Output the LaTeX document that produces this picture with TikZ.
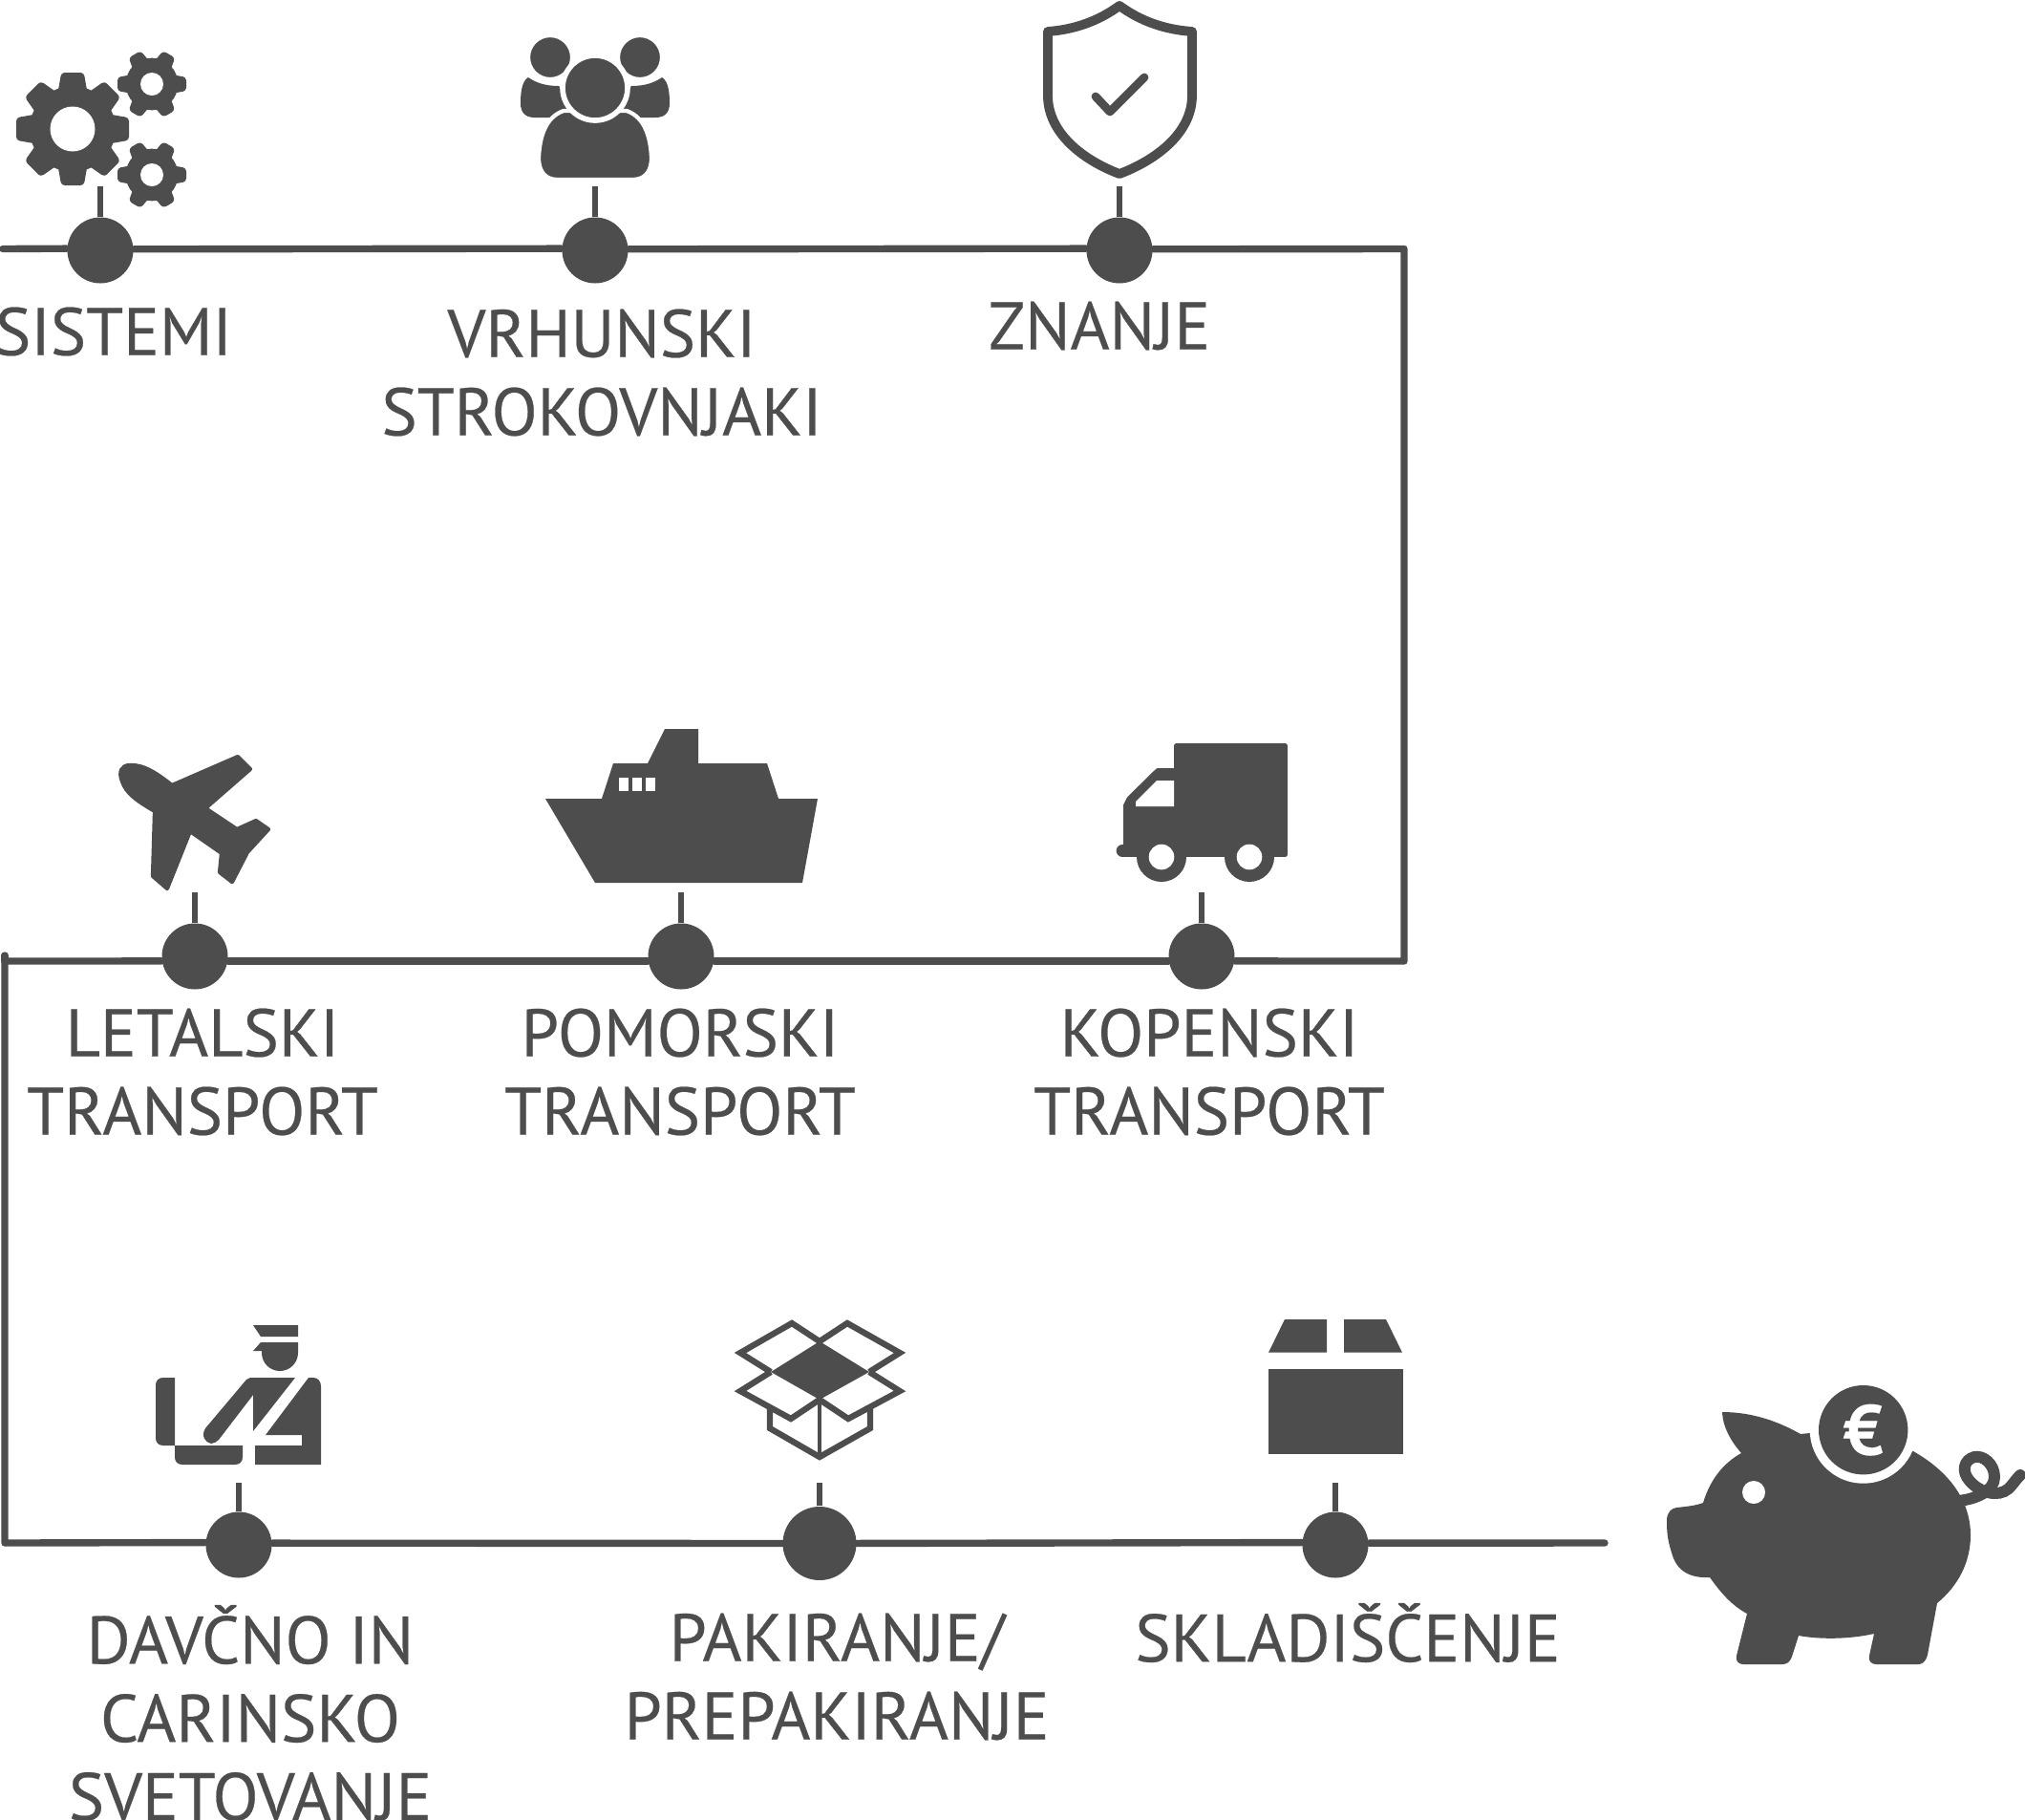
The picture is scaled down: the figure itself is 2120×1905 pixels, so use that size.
\documentclass[tikz,border=0pt]{standalone}
\usepackage{fontspec}
\setmainfont[FakeBold=0.35]{PT Sans}
\definecolor{icongray}{HTML}{4D4D4D}
\newcommand{\gearicon}[5]{% x, y, outer radius, hole radius, teeth
  \fill[icongray] (#1,#2) circle[radius=0.76*#3];
  \pgfmathsetmacro{\gearstep}{360/#5}
  \foreach \t in {1,...,#5} {
    \fill[icongray, shift={(#1,#2)}, rotate=\t*\gearstep, rounded corners=1]
      (0.6*#3,-0.27*#3) -- (#3,-0.2*#3) -- (#3,0.2*#3) -- (0.6*#3,0.27*#3) -- cycle;
  }
  \fill[white] (#1,#2) circle[radius=#4];
}
\tikzset{
  dot/.style={circle, fill=icongray, inner sep=0pt, minimum size=69*0.01cm},
  bigdot/.style={dot, minimum size=77*0.01cm},
  wire/.style={draw=icongray, line width=2.1pt, line cap=round, line join=round},
  stub/.style={draw=icongray, line width=1.7pt},
  lbl/.style={text=icongray, align=center, inner sep=0pt, font=\fontsize{20}{23.3}\selectfont},
  outline/.style={draw=icongray, line join=miter},
  softfill/.style={fill=icongray, draw=icongray, line width=1.2pt, line join=round},
}
\begin{document}
\begin{tikzpicture}[x=0.01cm, y=-0.01cm]
  \useasboundingbox (0,0) rectangle (2120,1905);

  % dots on the three lines, each with a short stub up to its icon
  \foreach \name/\x/\y/\top/\kind in {sistemi/105/262/195/dot, vrhunski/623/262/195/dot, znanje/1172/262/195/dot,
      letalski/204/1001/934/dot, pomorski/713/1001/934/dot, kopenski/1258/1001/934/dot,
      carina/250/1617/1552/dot, pakiranje/858/1615.5/1552/bigdot, skladisce/1398/1617/1552/dot} {
    \node[\kind] (\name) at (\x,\y) {};
    \coordinate (\name top) at (\x,\top);
    \draw[stub] (\name) -- (\name top);
  }

  % the line itself, it runs a little off the centre of the dots
  \coordinate (start) at (3,260.5);
  \coordinate (cornerA) at (1470,260.5);
  \coordinate (cornerB) at (1470,1006);
  \coordinate (cornerC) at (5,1006);
  \coordinate (cornerCup) at (5,1000);
  \coordinate (cornerD) at (5,1615);
  \coordinate (finish) at (1680,1615);
  \draw[wire] (start) -- (sistemi.177.5);
  \draw[wire] (sistemi.2.5) -- (vrhunski.177.5);
  \draw[wire] (vrhunski.2.5) -- (znanje.177.5);
  \draw[wire] (znanje.2.5) -- (cornerA) -- (cornerB) -- (kopenski.-8.3);
  \draw[wire] (kopenski.188.3) -- (pomorski.-8.3);
  \draw[wire] (pomorski.188.3) -- (letalski.-8.3);
  \draw[wire] (letalski.188.3) -- (cornerC) -- (cornerD) -- (carina.176.7);
  \draw[wire] (carina.3.3) -- (pakiranje);
  \draw[wire] (pakiranje) -- (skladisce.176.7);
  \draw[wire] (skladisce.3.3) -- (finish);
  \draw[wire] (cornerC) -- (cornerCup);

  % labels
  \node[lbl] (lsistemi) at (119,347) {SISTEMI};
  \node[lbl] (lvrhunski) at (630,390) {VRHUNSKI\\STROKOVNJAKI};
  \node[lbl] (lznanje) at (1151,341) {ZNANJE};
  \node[lbl] (lletalski) at (212,1122) {LETALSKI\\TRANSPORT};
  \node[lbl] (lpomorski) at (712,1122) {POMORSKI\\TRANSPORT};
  \node[lbl] (lkopenski) at (1266,1122) {KOPENSKI\\TRANSPORT};
  \node[lbl] (lcarina) at (262,1793) {DAVČNO IN\\CARINSKO\\SVETOVANJE};
  \node[lbl] (lpakiranje) at (876,1755) {PAKIRANJE/\\PREPAKIRANJE};
  \node[lbl] (lskladisce) at (1411,1709) {SKLADIŠČENJE};

  % gears
  \gearicon{76}{135}{59}{23.5}{8}
  \gearicon{159}{88}{36}{12}{6}
  \gearicon{159}{183}{36}{12}{6}

  % people
  \fill[icongray] (553,81) .. controls (560,86) and (570,90) .. (585,90) -- (610,123) -- (560,123)
    .. controls (550,123) and (545,118) .. (545,108) .. controls (545,98) and (546,85) .. (553,81) -- cycle;
  \fill[icongray] (693,81) .. controls (686,86) and (676,90) .. (661,90) -- (636,123) -- (686,123)
    .. controls (696,123) and (701,118) .. (701,108) .. controls (701,98) and (700,85) .. (693,81) -- cycle;
  \filldraw[icongray, draw=white, line width=1.2pt] (576,60) circle[radius=23];
  \filldraw[icongray, draw=white, line width=1.2pt] (670,60) circle[radius=23];
  \filldraw[icongray, draw=white, line width=1.2pt] (564,165) .. controls (565,145) and (570,123) .. (590,116)
    -- (656,116) .. controls (676,123) and (681,145) .. (682,165) .. controls (682,181) and (674,188) .. (662,188)
    -- (584,188) .. controls (572,188) and (564,181) .. (564,165) -- cycle;
  \filldraw[icongray, draw=white, line width=1.6pt] (623,92) circle[radius=34];

  % shield
  \draw[icongray, line width=2.8pt, line join=round] (1172,6) .. controls (1150,22) and (1125,31) .. (1097,33)
    -- (1097,100) .. controls (1097,140) and (1135,168) .. (1172,182)
    .. controls (1209,168) and (1248,140) .. (1248,100) -- (1248,33)
    .. controls (1219,31) and (1194,22) .. (1172,6) -- cycle;
  \draw[icongray, line width=2.5pt, line cap=round, line join=round] (1147,101) -- (1162,117) -- (1198,81);

  % plane
  \filldraw[softfill] (136,801) .. controls (127,801) and (124,808) .. (128,818) .. controls (132,830) and (143,838) .. (162,849)
    -- (160,917) -- (175,930) -- (199,870) -- (232,893) -- (230,913) -- (243,923) -- (259,892)
    -- (281,868) -- (268,859) -- (248,868) -- (215,846) -- (262,805) -- (249,792) -- (180,822)
    .. controls (165,810) and (150,800) .. (136,801) -- cycle;

  % ship
  \fill[icongray] (571,836) -- (630,836) -- (642,799) -- (678,799) -- (696,763) -- (731,763) -- (731,799)
    -- (803,799) -- (815,836) -- (856,836) -- (840,924) -- (623,924) -- cycle;
  \foreach \wx in {648,662,676}
    \fill[white] (\wx,814) rectangle +(9.5,14);

  % truck
  \filldraw[softfill, line width=1.4pt] (1231.5,806.5) -- (1212,806.5) -- (1182,836) -- (1178.5,843) -- (1178.5,894.5)
    -- (1345.5,894.5) -- (1345.5,780.5) -- (1231.5,780.5) -- cycle;
  \draw[icongray, line width=3.6pt, line cap=round] (1175,890.5) -- (1185,890.5);
  \fill[white] (1229,817) -- (1211,817) -- (1189,839) -- (1189,844) -- (1229,844) -- cycle;
  \foreach \wx in {1216,1308} {
    \fill[icongray] (\wx,897) circle[radius=26];
    \fill[white] (\wx,897) circle[radius=13.3];
  }

  % customs officer
  \fill[icongray] (265,1387) -- (312,1387) -- (312,1399) -- (273,1399) -- cycle;
  \fill[icongray] (312,1405) -- (273,1405) -- (265,1414) -- (274,1414) -- (274,1416) arc[start angle=180, end angle=0, radius=19] -- cycle;
  \fill[icongray] (183,1442) -- (171,1442) .. controls (166,1442) and (163,1445) .. (163,1450) -- (163,1505)
    .. controls (163,1510) and (166,1513) .. (171,1513) -- (183,1513) -- cycle;
  \fill[icongray] (183,1513) -- (183,1525) .. controls (183,1530) and (186,1533) .. (191,1533) -- (246,1533)
    .. controls (251,1533) and (254,1530) .. (254,1525) -- (254,1513) -- cycle;
  \fill[icongray] (309,1442) -- (262,1442) .. controls (260,1442) and (259,1443) .. (258,1444) -- (215,1495)
    .. controls (210,1503) and (215,1510) .. (221,1511) .. controls (224,1511) and (227,1509) .. (229,1507)
    -- (265,1460) -- (265,1498) -- cycle;
  \fill[icongray] (323,1442) -- (328,1442) .. controls (333,1442) and (336,1446) .. (336,1451) -- (336,1533)
    -- (267,1533) -- (267,1513) -- (316,1513) -- (316,1502) -- (278,1502) -- cycle;

  % open box
  \fill[icongray] (858,1404) -- (910,1436) -- (858,1465) -- (807,1436) -- cycle;
  \draw[outline, line width=1.8pt] (807,1436) -- (775,1416) -- (829,1385) -- (858,1404) -- (887,1385) -- (942,1416) -- (910,1436);
  \draw[outline, line width=1.8pt] (807,1436) -- (775,1456) -- (828,1485) -- (858,1465) -- (888,1485) -- (942,1456) -- (910,1436);
  \draw[outline, line width=1.8pt] (806,1474) -- (806,1495) -- (858,1525) -- (911,1495) -- (911,1474);
  \draw[outline, line width=0.9pt] (858,1465) -- (858,1525);

  % closed box
  \fill[icongray] (1328,1415.7) -- (1345,1381) -- (1389,1381) -- (1389,1415.7) -- cycle;
  \fill[icongray] (1407,1415.7) -- (1407,1381) -- (1451,1381) -- (1468,1415.7) -- cycle;
  \fill[icongray] (1328,1433) rectangle (1469,1522);

  % piggy bank
  \draw[icongray, line width=3.4pt, line cap=round] (2050,1571) .. controls (2070,1569) and (2088,1560) .. (2088,1546)
    .. controls (2088,1532) and (2076,1523) .. (2067,1525) .. controls (2056,1528) and (2053,1540) .. (2062,1550)
    .. controls (2072,1562) and (2092,1568) .. (2103,1558) .. controls (2107,1554) and (2110,1549) .. (2115,1544);
  \fill[icongray] (1803,1478) .. controls (1835,1478) and (1862,1488) .. (1885,1501) -- (1895,1500) -- (2003,1519)
    .. controls (2040,1540) and (2063,1570) .. (2063,1607) .. controls (2063,1635) and (2050,1660) .. (2028,1678)
    -- (2018,1732) .. controls (2016,1740) and (2012,1742) .. (2008,1742) -- (1965,1742) .. controls (1958,1742) and (1956,1738) .. (1957,1733)
    -- (1962,1710) .. controls (1935,1716) and (1905,1716) .. (1883,1712)
    -- (1876,1734) .. controls (1874,1740) and (1870,1742) .. (1866,1742) -- (1826,1742) .. controls (1819,1742) and (1817,1738) .. (1818,1733)
    -- (1829,1689) .. controls (1812,1680) and (1800,1665) .. (1790,1651)
    .. controls (1770,1652) and (1755,1645) .. (1750,1625) .. controls (1745,1610) and (1745,1600) .. (1745,1590)
    .. controls (1746,1582) and (1750,1579) .. (1755,1578) .. controls (1765,1577) and (1775,1576) .. (1783,1573)
    .. controls (1790,1550) and (1803,1532) .. (1823,1521) .. controls (1812,1508) and (1804,1495) .. (1803,1478) -- cycle;
  \fill[white] (1836,1562) circle[radius=12];
  \fill[white] (1950.7,1496.7) circle[radius=56];
  \node[circle, fill=icongray, inner sep=0pt, minimum size=93.4*0.01cm, text=white, font=\fontsize{21}{21}\bfseries\selectfont] (coin) at (1950.7,1496.7) {€};
\end{tikzpicture}
\end{document}
